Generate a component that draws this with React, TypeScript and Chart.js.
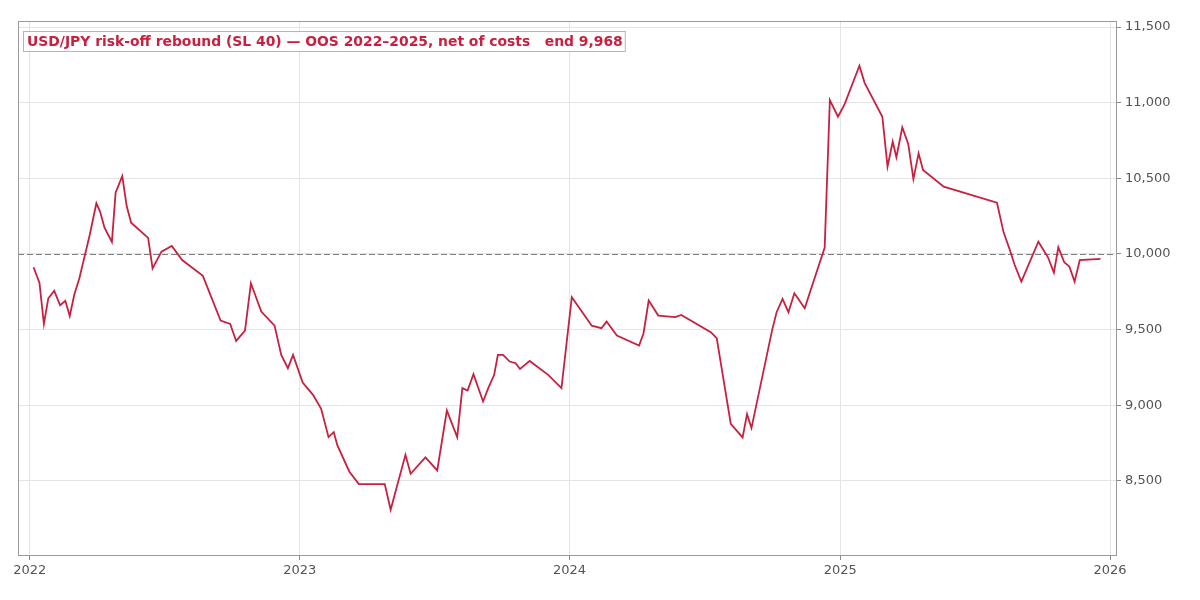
import { useEffect, useRef } from "react";
import { Chart, registerables, type ChartConfiguration, type Plugin } from "chart.js";

Chart.register(...registerables);

// equity curve
const dates = [
  "2022-01-06", "2022-01-14", "2022-01-20", "2022-01-26", "2022-02-03", "2022-02-11", "2022-02-18",
  "2022-02-24", "2022-03-02", "2022-03-09", "2022-03-23", "2022-04-01", "2022-04-06", "2022-04-12",
  "2022-04-22", "2022-04-27", "2022-05-06", "2022-05-12", "2022-05-18", "2022-06-10", "2022-06-16",
  "2022-06-28", "2022-07-12", "2022-07-26", "2022-08-23", "2022-09-16", "2022-09-29", "2022-10-07",
  "2022-10-19", "2022-10-27", "2022-11-10", "2022-11-28", "2022-12-07", "2022-12-16", "2022-12-23",
  "2023-01-05", "2023-01-19", "2023-01-30", "2023-02-09", "2023-02-16", "2023-02-21", "2023-03-09",
  "2023-03-22", "2023-04-26", "2023-05-04", "2023-05-24", "2023-05-31", "2023-06-20", "2023-07-06",
  "2023-07-19", "2023-08-02", "2023-08-09", "2023-08-16", "2023-08-24", "2023-09-06", "2023-09-13",
  "2023-09-21", "2023-09-26", "2023-10-03", "2023-10-12", "2023-10-20", "2023-10-26", "2023-11-08",
  "2023-12-03", "2023-12-21", "2024-01-04", "2024-01-31", "2024-02-13", "2024-02-20", "2024-03-05",
  "2024-04-04", "2024-04-10", "2024-04-17", "2024-04-30", "2024-05-23", "2024-05-31", "2024-07-10",
  "2024-07-18", "2024-08-06", "2024-08-22", "2024-08-28", "2024-09-03", "2024-10-01", "2024-10-07",
  "2024-10-15", "2024-10-23", "2024-10-31", "2024-11-14", "2024-12-11", "2024-12-18", "2024-12-29",
  "2025-01-07", "2025-01-27", "2025-02-03", "2025-02-27", "2025-03-06", "2025-03-13", "2025-03-18",
  "2025-03-26", "2025-04-03", "2025-04-10", "2025-04-17", "2025-04-23", "2025-05-21", "2025-08-01",
  "2025-08-10", "2025-08-18", "2025-08-25", "2025-09-03", "2025-09-26", "2025-10-09", "2025-10-17",
  "2025-10-23", "2025-10-31", "2025-11-07", "2025-11-14", "2025-11-21", "2025-12-19",
];

const equity = [
  9912, 9810, 9538, 9707, 9756, 9661, 9690,
  9590, 9729, 9839, 10125, 10335, 10280, 10174,
  10079, 10405, 10515, 10317, 10207, 10106, 9905,
  10015, 10053, 9960, 9855, 9560, 9538, 9425,
  9493, 9806, 9619, 9526, 9333, 9245, 9333,
  9150, 9069, 8976, 8789, 8822, 8734, 8562,
  8479, 8479, 8309, 8672, 8547, 8655, 8569,
  8965, 8789, 9113, 9097, 9205, 9025, 9113,
  9201, 9333, 9333, 9289, 9278, 9240, 9293,
  9201, 9113, 9714, 9526, 9509, 9553, 9461,
  9395, 9476, 9692, 9593, 9582, 9597, 9483,
  9443, 8877, 8787, 8941, 8849, 9498, 9615,
  9703, 9615, 9740, 9641, 10042, 11017, 10907,
  10991, 11244, 11131, 10907, 10577, 10742, 10639,
  10837, 10727, 10495, 10665, 10555, 10445, 10339,
  10143, 10033, 9927, 9817, 10081, 9978, 9877,
  10044, 9945, 9916, 9817, 9960, 9968,
];

const yearTicks = [2022, 2023, 2024, 2025, 2026];
const valueTicks = [8500, 9000, 9500, 10000, 10500, 11000, 11500];
const startingCapital = 10000;

const titleText = "USD/JPY risk-off rebound (SL 40) \u2014 OOS 2022\u20132025, net of costs   end 9,968";

const LINE = "#c8203f";
const FONT = "'DejaVu Sans', sans-serif";

const yearMs = (y: number) => Date.UTC(y, 0, 1);

// frame, baseline and the boxed caption inside the plot
const decorations: Plugin<"line"> = {
  id: "decorations",
  beforeDatasetsDraw(chart) {
    const { ctx, chartArea, scales } = chart;
    const y = Math.round(scales.y.getPixelForValue(startingCapital)) + 0.5;
    ctx.save();
    ctx.strokeStyle = "#7f7f7f";
    ctx.lineWidth = 1;
    ctx.setLineDash([6, 3]);
    ctx.beginPath();
    ctx.moveTo(chartArea.left, y);
    ctx.lineTo(chartArea.right, y);
    ctx.stroke();
    ctx.restore();
  },
  afterDraw(chart) {
    const { ctx, chartArea } = chart;
    ctx.save();
    ctx.strokeStyle = "#9a9a9a";
    ctx.lineWidth = 1;
    ctx.strokeRect(chartArea.left + 0.5, chartArea.top + 0.5, chartArea.width, chartArea.height);

    ctx.font = `bold 13.9px ${FONT}`;
    const w = ctx.measureText(titleText).width;
    const bx = chartArea.left + 5.5;
    const by = chartArea.top + 10.5;
    ctx.fillStyle = "rgba(255,255,255,0.9)";
    ctx.fillRect(bx, by, w + 6, 20);
    ctx.strokeStyle = "#b5b5b5";
    ctx.strokeRect(bx, by, w + 6, 20);
    ctx.fillStyle = LINE;
    ctx.textBaseline = "middle";
    ctx.fillText(titleText, bx + 3.5, by + 10.5);
    ctx.restore();
  },
};

export default function App() {
  const canvasRef = useRef<HTMLCanvasElement>(null);
  const chartRef = useRef<Chart | null>(null);

  useEffect(() => {
    const ctx = canvasRef.current?.getContext("2d");
    if (!ctx) return;
    chartRef.current?.destroy();

    const config: ChartConfiguration<"line"> = {
      type: "line",
      data: {
        datasets: [
          {
            label: "equity",
            data: dates.map((d, i) => ({ x: Date.parse(d), y: equity[i] })),
            borderColor: LINE,
            borderWidth: 1.8,
            pointRadius: 0,
            tension: 0,
            fill: false,
          },
        ],
      },
      options: {
        responsive: true,
        maintainAspectRatio: false,
        animation: false,
        layout: { padding: { left: 18, top: 21, right: 0, bottom: 0 } },
        plugins: { legend: { display: false }, tooltip: { enabled: false } },
        scales: {
          x: {
            type: "linear",
            min: Date.UTC(2021, 11, 16),
            max: Date.UTC(2026, 0, 9),
            afterBuildTicks: (s) => {
              s.ticks = yearTicks.map((y) => ({ value: yearMs(y) }));
            },
            afterFit: (s) => {
              s.height = 45;
            },
            ticks: {
              color: "#555555",
              font: { size: 13, family: FONT },
              padding: 3,
              maxRotation: 0,
              callback: (v) => String(new Date(Number(v)).getUTCFullYear()),
            },
            grid: { color: "#e4e4e4", tickColor: "#888888", tickLength: 5 },
            border: { display: false },
          },
          y: {
            position: "right",
            min: 8010,
            max: 11540,
            afterBuildTicks: (s) => {
              s.ticks = valueTicks.map((v) => ({ value: v }));
            },
            afterFit: (s) => {
              s.width = 84;
            },
            ticks: {
              color: "#555555",
              font: { size: 13, family: FONT, lineHeight: 1.5 },
              padding: 4,
              callback: (v) => Number(v).toLocaleString("en-US"),
            },
            grid: { color: "#e4e4e4", tickColor: "#888888", tickLength: 5 },
            border: { display: false },
          },
        },
      },
      plugins: [decorations],
    };

    chartRef.current = new Chart(ctx, config);
    return () => chartRef.current?.destroy();
  }, []);

  return (
    <div style={{ position: "absolute", left: 0, top: 0, width: 1200, height: 600, background: "#fff" }}>
      <canvas ref={canvasRef} />
    </div>
  );
}
